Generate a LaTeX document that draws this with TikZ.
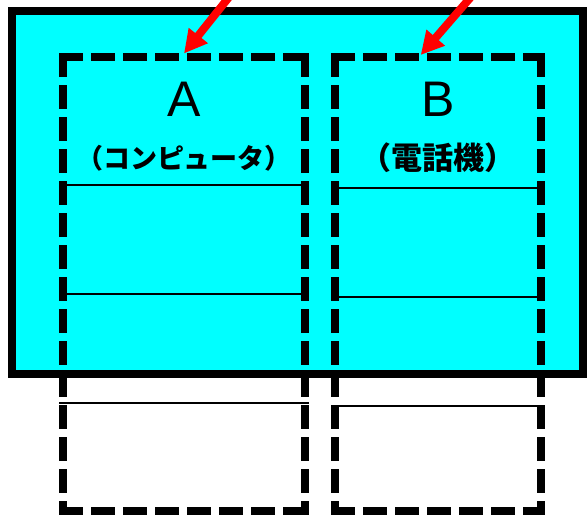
\documentclass[tikz,border=0pt]{standalone}
\usepackage{fontspec}
\setmainfont{Liberation Sans}
\newfontfamily\jpfont{Noto Sans CJK JP}
\usetikzlibrary{arrows.meta}
\definecolor{cyanfill}{RGB}{0,255,255}
\definecolor{arrowred}{RGB}{255,0,0}
\begin{document}
\begin{tikzpicture}[x=1pt,y=-1pt,
  frame/.style={line width=8pt, fill=cyanfill, draw=black},
  boxnode/.style={minimum width=241.4pt, minimum height=454.3pt, inner sep=0pt, outer sep=0pt},
  boxnodeB/.style={minimum width=206pt, minimum height=454.3pt, inner sep=0pt, outer sep=0pt},
  dashside/.style={line width=8pt, line cap=rect, dash pattern=on 16pt off 16pt},
  rule/.style={line width=2pt},
  redarrow/.style={draw=arrowred, line width=8pt, -{Triangle[length=23pt,width=23pt]}},
  letter/.style={font=\fontsize{50}{50}\selectfont, inner sep=0pt},
  jp/.style={font=\jpfont\bfseries\fontsize{27}{27}\selectfont, inner sep=0pt},
  jpbig/.style={font=\jpfont\bfseries\fontsize{31}{31}\selectfont, inner sep=0pt}]
\useasboundingbox (0,0) rectangle (587,515);
\clip (0,0) rectangle (587,515);
% outer cyan frame
\draw[frame] (12,11.3) rectangle (583,374);
% box placeholders
\node[boxnode] (boxA) at (184,283.85) {};
\node[boxnodeB] (boxB) at (438,283.85) {};
% rules in A
\draw[rule] (59.3,185) -- (308.7,185);
\draw[rule] (59.3,294) -- (308.7,294);
\draw[rule] (59.3,403.3) -- (308.7,403.3);
% rules in B
\draw[rule] (331,187.5) -- (545,187.5);
\draw[rule] (331,296.5) -- (545,296.5);
\draw[rule] (331,405.5) -- (545,405.5);
% dashed sides
\foreach \b in {boxA,boxB}{
  \draw[dashside] (\b.north west) -- (\b.south west);
  \draw[dashside] (\b.north west) -- (\b.north east);
  \draw[dashside] (\b.north east) -- (\b.south east);
  \draw[dashside] (\b.south west) -- (\b.south east);
}
% labels
\node[letter] (labA) at (184,99.5) {A};
\node[jp] (subA) at (184,158) {（コンピュータ）};
\node[letter] (labB) at (438,99.5) {B};
\node[jpbig] (subB) at (438,158) {（電話機）};
% arrows
\coordinate (srcA) at (234.7,-10);
\coordinate (tipA) at (184,53.5);
\coordinate (srcB) at (477,-10);
\coordinate (tipB) at (420.7,55);
\draw[redarrow] (srcA) -- (tipA);
\draw[redarrow] (srcB) -- (tipB);
\end{tikzpicture}
\end{document}
